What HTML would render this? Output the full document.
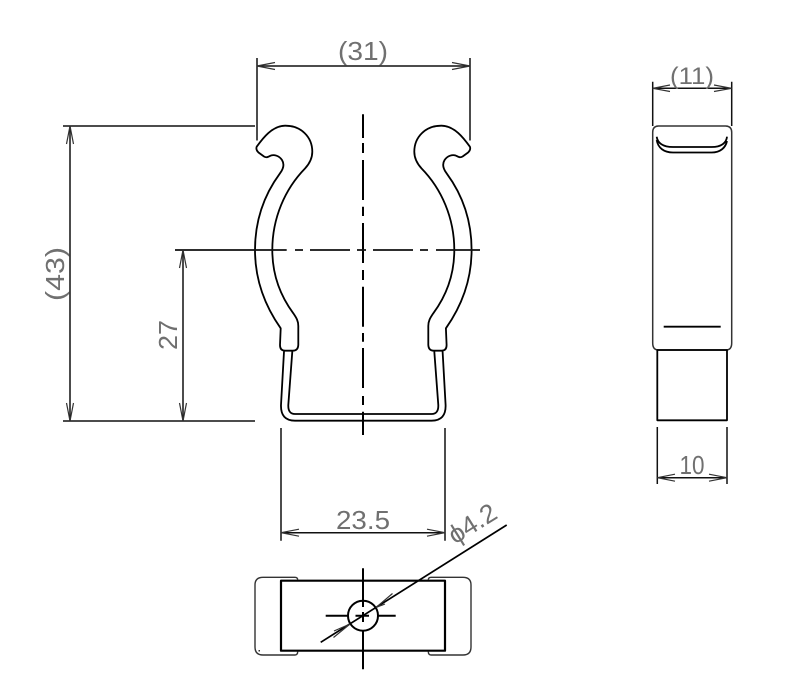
<!DOCTYPE html>
<html><head><meta charset="utf-8"><style>
html,body{margin:0;padding:0;background:#fff}
svg{display:block}
text{font-family:"Liberation Sans",sans-serif;font-size:26px;fill:#707070;text-anchor:middle}
.o{fill:none;stroke:#000;stroke-width:1.8;stroke-linejoin:round}
.d{fill:none;stroke:#111;stroke-width:1.5}
.a{fill:none;stroke:#333;stroke-width:1.2}
.c{fill:none;stroke:#000;stroke-width:2}
</style></head><body>
<svg width="800" height="694" viewBox="0 0 800 694" xmlns="http://www.w3.org/2000/svg">
<defs>
<g id="half">
<path class="o" d="M256.7 146.7C263 138 272 126 285 125.7C301 125.5 312.3 137 312.3 151.7C312.3 158 310 163 305 168.5C285 189 272.3 218 272.3 250C272.3 277 282 298 293.3 313.3C296.5 318 298.3 321 298.3 326L298.3 345Q298 350.7 293 350.7L285 350.7Q280 350.7 280 345L280.7 328.3C265 306 255 281 255 250C255 220 264 195 280 173.3C284 168 284.5 164 282 160C279 155.5 274 154.5 271 155.5C268 157 266.5 158 264 156.5L258.5 152.5C256.5 150.5 256 148.5 256.7 146.7Z"/>
<path class="o" d="M284 351.5L281 405Q280.5 420.7 295 420.7L363.3 420.7M292.3 351.5L288.3 405Q288 414 295 414L363.3 414"/>
</g>
</defs>
<use href="#half"/>
<use href="#half" transform="translate(726.6 0) scale(-1 1)"/>

<path class="c" d="M363 114.3V138M363 143V153M363 160V200M363 206.7V216M363 223V263M363 270V280M363 286.7V326.7M363 333V341.7M363 348V388M363 396V405M363 411.7V435"/>
<path class="d" style="stroke-width:1.8" d="M175 250H286.7M295 250H303M310 250H350M357 250H366M373 250H413M420 250H428M436 250H480"/>

<!-- (31) -->
<path class="d" d="M257 58V140.5M470 58V140.5M257 66H470"/>
<path class="a" d="M275 62.5L257 66L275 69.5M452 62.5L470 66L452 69.5"/>
<text x="363" y="60" textLength="50" lengthAdjust="spacingAndGlyphs">(31)</text>

<!-- (43) -->
<path class="d" d="M63 126H255M63 421H255M70 126V421"/>
<path class="a" d="M66.5 144L70 126L73.5 144M66.5 403L70 421L73.5 403"/>
<text transform="translate(64 274) rotate(-90)" textLength="54" lengthAdjust="spacingAndGlyphs">(43)</text>

<!-- 27 -->
<path class="d" d="M183 250V421"/>
<path class="a" d="M179.5 268L183 250L186.5 268M179.5 403L183 421L186.5 403"/>
<text transform="translate(177 335) rotate(-90)" textLength="30" lengthAdjust="spacingAndGlyphs">27</text>

<!-- 23.5 -->
<path class="d" d="M281 428V540.7M445 428V540.7M281 532.7H445"/>
<path class="a" d="M299 529.2L281 532.7L299 536.2M427 529.2L445 532.7L427 536.2"/>
<text x="363" y="529" textLength="54" lengthAdjust="spacingAndGlyphs">23.5</text>

<!-- bottom view -->
<rect class="o" x="281" y="580.7" width="164" height="70" style="stroke-width:2.2"/>
<path class="a" d="M297.7 580C297.7 578 296.5 577.3 295 577.3H263Q255 577.3 255 585V647Q255 655 263 655H295C296.5 655 297.7 654 297.7 651.5M428.3 580C428.3 578 429.5 577.3 431 577.3H463Q471 577.3 471 585V647Q471 655 463 655H431C429.5 655 428.3 654 428.3 651.5" style="stroke-width:1.4;stroke:#333"/>
<circle class="o" cx="363" cy="615.7" r="15" style="stroke-width:2"/>
<path class="c" d="M363 568.3V607M363 612V622M363 630V669.3M325.7 615.7H348M355.5 615.7H369M377 615.7H395.7"/>
<path class="d" d="M320.7 642.3L506.7 525" style="stroke:#000;stroke-width:1.7"/>
<path class="a" d="M376 607.5L392.5 593.5M376 607.5L385 604M350 624L333.5 637.5M350 624L334 631"/>
<rect x="258.5" y="650" width="1.5" height="1.5" fill="#333"/>
<text transform="translate(477 531) rotate(-32)" textLength="52" lengthAdjust="spacingAndGlyphs">ϕ4.2</text>

<!-- side view -->
<path class="a" d="M658.5 126H725.5Q731.7 126 731.7 132.5V343Q731.7 350 726 350H658.5Q652.7 350 652.7 343V132.5Q652.7 126 658.5 126Z" style="stroke:#333;stroke-width:1.5"/>
<path class="o" d="M657.3 350H727V420.3H657.3Z"/>
<path class="o" d="M663.7 326.7H720.7"/>
<path class="o" d="M656.7 136.7C657.5 143 663 147 673 147H711.7C721 147 726.5 143 727 136.7M656.7 140C658 148 664 152.5 673 152.5H711.7C720 152.5 725.5 148 727 141"/>

<!-- (11) -->
<path class="d" d="M652.7 81.7V126M731.7 81.7V126M652.7 88.3H731.7"/>
<path class="a" d="M670 85L652.7 88.3L670 91.5M714 85L731.7 88.3L714 91.5"/>
<text x="692" y="84" textLength="44" lengthAdjust="spacingAndGlyphs" style="font-size:24px">(11)</text>

<!-- 10 -->
<path class="d" d="M657.3 427V484M727 427V484M657.3 477.7H727"/>
<path class="a" d="M675 474.2L657.3 477.7L675 481.2M709 474.2L727 477.7L709 481.2"/>
<text x="692" y="474" textLength="25" lengthAdjust="spacingAndGlyphs">10</text>
</svg>
</body></html>
